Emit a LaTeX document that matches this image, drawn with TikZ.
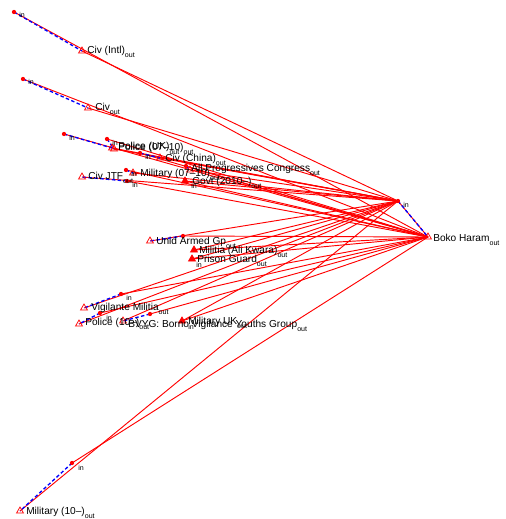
\documentclass[tikz,border=0pt]{standalone}
\usepackage{fontspec}
\setmainfont{Liberation Sans}
\usetikzlibrary{shapes.geometric}
\newcommand{\osub}{\raisebox{-3.6pt}{\fontsize{5.3}{6}\selectfont out}}
\begin{document}
\begin{tikzpicture}[x=0.75pt,y=-0.75pt,
  redline/.style={draw=red, line width=0.7pt},
  bluedash/.style={draw=blue, line width=1pt, dash pattern=on 2.6pt off 1.8pt},
  indot/.style={circle, fill=red, inner sep=0pt, minimum size=3.2pt},
  outtri/.style={regular polygon, regular polygon sides=3, draw=red, line width=0.55pt, inner sep=0pt, minimum size=6pt},
  outfill/.style={outtri, fill=red},
  lab/.style={anchor=base west, inner sep=0pt, font=\fontsize{7.6}{9}\selectfont},
  inlab/.style={anchor=base west, inner sep=0pt, font=\fontsize{5.3}{6}\selectfont},
]
\fill[white] (0,0) rectangle (506,519);
\path[use as bounding box] (0,0) rectangle (506,519);

% Boko Haram
\coordinate (bhi) at (398,201);
\coordinate (bho) at (428,237);

% paired actors: in / out
\coordinate (civintl-i) at (14,12);   \coordinate (civintl-o) at (82,51);
\coordinate (civ-i) at (23,79);       \coordinate (civ-o) at (88,108);
\coordinate (pola-i) at (64,134);     \coordinate (pola-o) at (112,148);
\coordinate (poluk-i) at (107,139);   \coordinate (poluk-o) at (114,149);
\coordinate (civch-i) at (140,153);   \coordinate (civch-o) at (160,158);
\coordinate (civjtf-i) at (127,181);  \coordinate (civjtf-o) at (82,177);
\coordinate (mila-i) at (126,170);    \coordinate (mila-o) at (133,173);
\coordinate (apc-i) at (186,166);     \coordinate (apc-o) at (190,170);
\coordinate (unid-i) at (183,236);    \coordinate (unid-o) at (150,241);
\coordinate (vig-i) at (121,294);     \coordinate (vig-o) at (84,308);
\coordinate (polb-i) at (100,313);    \coordinate (polb-o) at (79,324);
\coordinate (bvyg-i) at (150,314);    \coordinate (bvyg-o) at (123,321);
\coordinate (milb-i) at (72,463);     \coordinate (milb-o) at (20,511);
% single-point actors
\coordinate (govt) at (185,181);
\coordinate (militia) at (194,250);
\coordinate (prison) at (192,259);
\coordinate (miluk) at (182,321);

% red connectors
\foreach \n in {civintl,civ,pola,poluk,civch,civjtf,mila,apc,unid,vig,polb,bvyg,milb}{
  \draw[redline] (\n-i) -- (bho);
  \draw[redline] (\n-o) -- (bhi);
}
\foreach \n in {govt,militia,prison,miluk}{
  \draw[redline] (\n) -- (bhi);
  \draw[redline] (\n) -- (bho);
}
\draw[redline] (bhi) -- (bho);

% blue dashed in-out links
\foreach \n in {civintl,civ,pola,poluk,civch,civjtf,mila,apc,unid,vig,polb,bvyg,milb}{
  \draw[bluedash] (\n-i) -- (\n-o);
}
\draw[bluedash] (bhi) -- (bho);

% markers
\foreach \n in {civintl,civ,pola,poluk,civch,civjtf,mila,apc,unid,vig,polb,bvyg,milb}{
  \node[indot] (\n-im) at (\n-i) {};
  \node[outtri] (\n-om) at (\n-o) {};
}
\node[indot] (bhim) at (bhi) {};
\node[outtri] (bhom) at (bho) {};
\foreach \n in {govt,militia,prison,miluk}{
  \node[outfill] (\n-m) at (\n) {};
}

% labels
\node[lab] (l-civintl) at (87,53) {Civ (Intl)\osub};
\node[lab] (l-civ) at (95,110) {Civ\osub};
\node[lab] (l-pola) at (118,150) {Police (07--10)\osub};
\node[lab] (l-poluk) at (118,149.5) {Police (UK)\osub};
\node[lab] (l-civch) at (165,161) {Civ (China)\osub};
\node[lab] (l-civjtf) at (88,179) {Civ JTF\osub};
\node[lab] (l-mila) at (140,176) {Military (07--10)\osub};
\node[lab] (l-apc) at (191,171) {All Progressives Congress\osub};
\node[lab] (l-govt) at (192,184) {Govt (2010--)\osub};
\node[lab] (l-unid) at (156,244) {Unid Armed Gp\osub};
\node[lab] (l-militia) at (199,253) {Militia (Ali Kwara)\osub};
\node[lab] (l-prison) at (197,262) {Prison Guard\osub};
\node[lab] (l-vig) at (91,310) {Vigilante Militia\osub};
\node[lab] (l-polb) at (85,325) {Police (10--)\osub};
\node[lab] (l-bvyg) at (128,327) {BVYG: Borno Vigilance Youths Group\osub};
\node[lab] (l-miluk) at (188,324) {Military UK\osub};
\node[lab] (l-milb) at (26,514) {Military (10--)\osub};
\node[lab] (l-bh) at (433,241) {Boko Haram\osub};

% "in" labels
\node[inlab] (n-civintl) at (19,17) {in};
\node[inlab] (n-civ) at (28,84) {in};
\node[inlab] (n-pola) at (69,140) {in};
\node[inlab] (n-poluk) at (112,145) {in};
\node[inlab] (n-civch) at (145,159) {in};
\node[inlab] (n-mila) at (131,176) {in};
\node[inlab] (n-civjtf) at (132,187) {in};
\node[inlab] (n-govt) at (191,188) {in};
\node[inlab] (n-prison) at (196,267) {in};
\node[inlab] (n-vig) at (126,300) {in};
\node[inlab] (n-polb) at (106,320) {in};
\node[inlab] (n-miluk) at (188,329) {in};
\node[inlab] (n-milb) at (78,470) {in};
\node[inlab] (n-bh) at (403,207) {in};
\end{tikzpicture}
\end{document}
